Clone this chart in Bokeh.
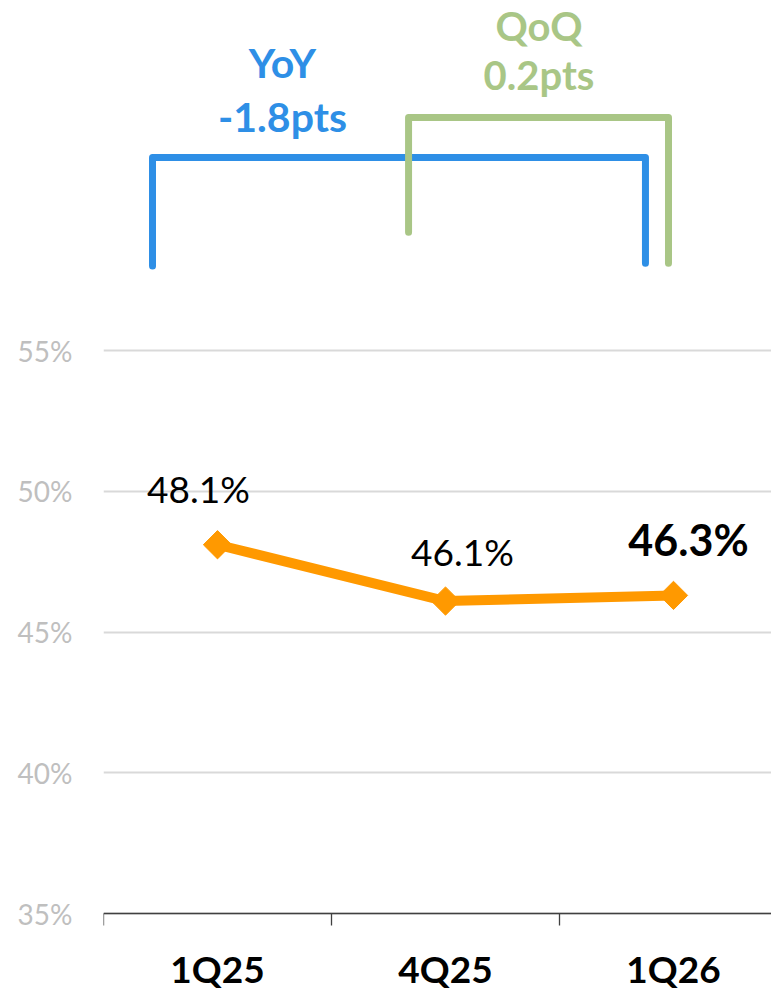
from bokeh.plotting import figure
from bokeh.models import Range1d, FixedTicker, LinearAxis, Grid
from bokeh.core.properties import value
from bokeh.embed import file_html
from bokeh.resources import INLINE

# ---- data ----
categories = ["1Q25", "4Q25", "1Q26"]
ratio = [48.1, 46.1, 46.3]          # %
y_ticks = [35, 40, 45, 50, 55]
y_tick_labels = ["35%", "40%", "45%", "50%", "55%"]

# ---- style ----
FONT = "Lato"
ORANGE = "#FF9900"
BLUE = "#2E8FE6"
GREEN = "#A9C686"
GRAY_TXT = "#BFBFBF"
GRID = "#D9D9D9"

xs = [i + 0.5 for i in range(len(categories))]

W, H = 771, 991
LEFT = 103
PX_PER_CAT = 228.0
PX_PER_PCT = 28.15
BASE_PX = 913            # px (from top) of the 35% baseline
y_lo = y_ticks[0] - (H - BASE_PX) / PX_PER_PCT
y_hi = y_ticks[0] + BASE_PX / PX_PER_PCT

p = figure(width=W, height=H, output_backend="svg", toolbar_location=None,
           x_range=Range1d(0, (W - LEFT) / PX_PER_CAT), y_range=Range1d(y_lo, y_hi),
           min_border_left=LEFT, min_border_right=0, min_border_top=0, min_border_bottom=0,
           x_axis_type=None, y_axis_type=None)
p.outline_line_color = None
p.background_fill_color = "white"
p.border_fill_color = "white"

# y axis
yax = LinearAxis(ticker=FixedTicker(ticks=y_ticks))
yax.major_label_overrides = {t: l for t, l in zip(y_ticks, y_tick_labels)}
yax.axis_line_color = None
yax.major_tick_line_color = None
yax.minor_tick_line_color = None
yax.major_tick_out = 0
yax.major_tick_in = 0
yax.major_label_standoff = 31
yax.major_label_text_font = FONT
yax.major_label_text_font_size = "28px"
yax.major_label_text_color = GRAY_TXT
p.add_layout(yax, "left")

p.add_layout(Grid(dimension=1, ticker=FixedTicker(ticks=y_ticks),
                  grid_line_color=GRID, grid_line_width=2))

# x axis, fixed at the 35% baseline
xax = LinearAxis(ticker=FixedTicker(ticks=xs, minor_ticks=list(range(len(categories) + 1))),
                 fixed_location=y_ticks[0])
xax.major_label_overrides = {x: c for x, c in zip(xs, categories)}
xax.axis_line_color = "#404040"
xax.axis_line_width = 1.3
xax.major_tick_line_color = None
xax.major_tick_out = 0
xax.major_tick_in = 0
xax.minor_tick_line_color = "#404040"
xax.minor_tick_line_width = 1.3
xax.minor_tick_out = 12
xax.minor_tick_in = 0
xax.major_label_standoff = 20
xax.major_label_text_font = FONT
xax.major_label_text_font_style = "bold"
xax.major_label_text_font_size = "37px"
xax.major_label_text_color = "black"
p.add_layout(xax, "below")

# main line
p.line(xs, ratio, line_color=ORANGE, line_width=10, line_join="round")
p.scatter(xs, ratio, marker="square", size=20, angle=0.785398,
          fill_color=ORANGE, line_color=ORANGE)

# data labels
lab = [f"{v:.1f}%" for v in ratio]
p.text(xs[:2], ratio[:2], text=lab[:2], x_offset=[-19, 17], y_offset=[-56, -50],
       text_align="center", text_baseline="middle",
       text_font=value(FONT), text_font_size="37px", text_color="black")
p.text(xs[2:], ratio[2:], text=lab[2:], x_offset=[15], y_offset=[-56],
       text_align="center", text_baseline="middle",
       text_font=value(FONT), text_font_size="43px", text_font_style="bold",
       text_color="black")

# brackets (YoY: first vs last, QoQ: second-to-last vs last)
yoy = ratio[-1] - ratio[0]
qoq = ratio[-1] - ratio[-2]

bx0, bx1 = xs[0] - 0.285, xs[-1] - 0.123
p.line([bx0, bx0, bx1, bx1], [58.0, 61.86, 61.86, 58.1],
       line_color=BLUE, line_width=7, line_join="round", line_cap="round")
gx0, gx1 = xs[-2] - 0.162, xs[-1] - 0.022
p.line([gx0, gx0, gx1, gx1], [59.2, 63.28, 63.28, 58.1],
       line_color=GREEN, line_width=7, line_join="round", line_cap="round")

p.text([0.785, 0.785], [65.23, 63.31], text=["YoY", f"{yoy:.1f}pts"],
       text_align="center", text_baseline="middle",
       text_font=value(FONT), text_font_size="41px", text_font_style="bold",
       text_color=BLUE)
p.text([1.91], [y_hi - 1.5 / PX_PER_PCT], text=["QoQ"],
       text_align="center", text_baseline="top",
       text_font=value(FONT), text_font_size="40px", text_font_style="bold",
       text_color=GREEN)
p.text([1.91], [64.77], text=[f"{qoq:.1f}pts"],
       text_align="center", text_baseline="middle",
       text_font=value(FONT), text_font_size="40px", text_font_style="bold",
       text_color=GREEN)

open("out.html", "w").write(file_html(p, INLINE))
